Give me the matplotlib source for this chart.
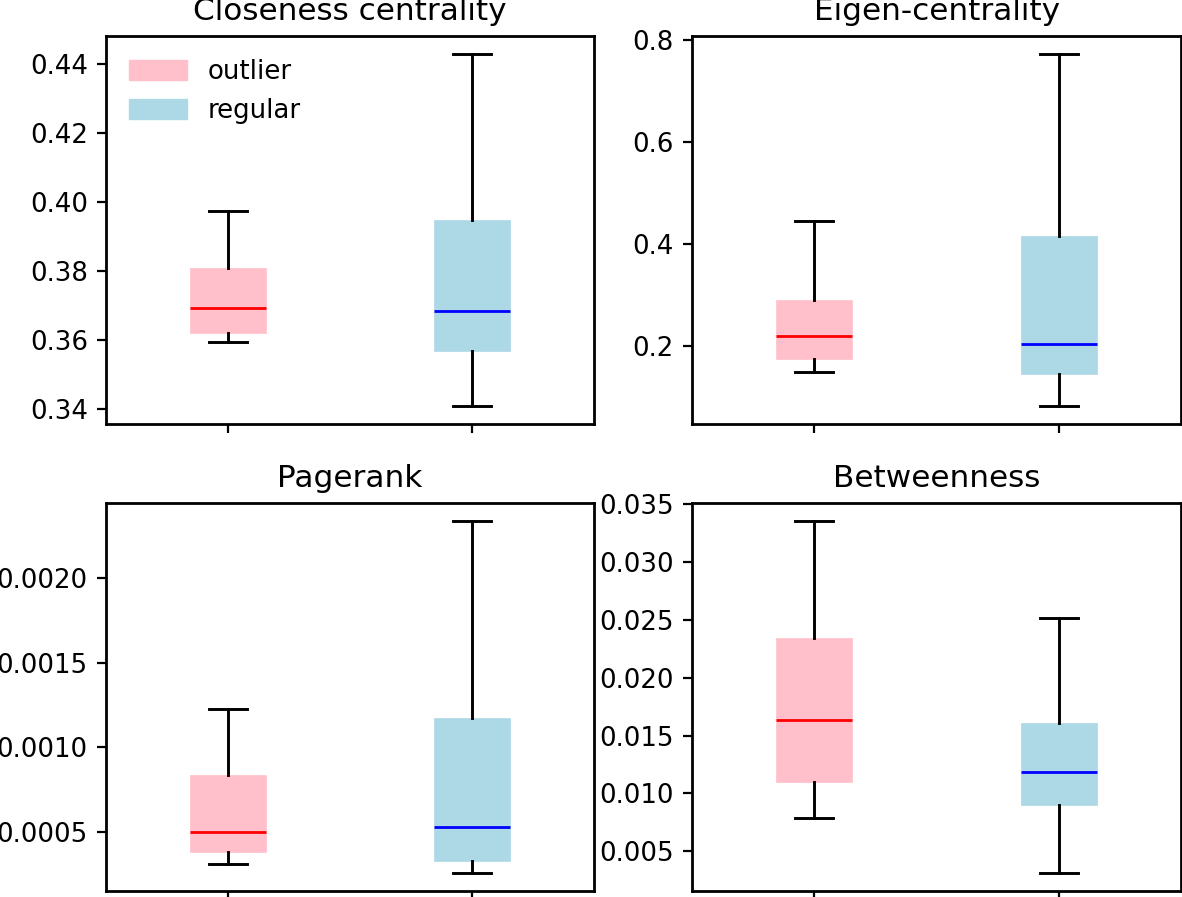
import matplotlib
matplotlib.use("Agg")
import matplotlib.pyplot as plt
import matplotlib.patches as mpatches

S = 1.87  # scale factor points

titles = ["Closeness centrality", "Eigen-centrality", "Pagerank", "Betweenness"]
groups = ["outlier", "regular"]
face_colors = ["pink", "lightblue"]
median_colors = ["red", "blue"]

# [outlier, regular] stats per panel
whislo = [[0.3596, 0.3409], [0.149, 0.0824], [0.000312, 0.000259], [0.0079, 0.00311]]
q1 = [[0.3622, 0.3568], [0.175, 0.145], [0.000382, 0.000329], [0.01102, 0.00904]]
med = [[0.3693, 0.3684], [0.2196, 0.204], [0.000500, 0.000529], [0.01635, 0.01188]]
q3 = [[0.3810, 0.3949], [0.290, 0.4157], [0.000835, 0.001171], [0.0234, 0.01609]]
whishi = [[0.3975, 0.4429], [0.445, 0.7725], [0.001224, 0.002335], [0.03354, 0.02511]]

fig = plt.figure(figsize=(11.82, 8.97), dpi=100)
W, H = 1182, 897
boxes_px = [(106, 36, 594, 424), (692, 36, 1181, 424),
            (106, 503, 594, 891), (692, 503, 1181, 891)]

for i, (x0, y0, x1, y1) in enumerate(boxes_px):
    ax = fig.add_axes([x0 / W, 1 - y1 / H, (x1 - x0) / W, (y1 - y0) / H])
    stats = []
    for g in range(2):
        stats.append(dict(whislo=whislo[i][g], q1=q1[i][g], med=med[i][g],
                          q3=q3[i][g], whishi=whishi[i][g], fliers=[], label=groups[g]))
    bp = ax.bxp(stats, positions=[1, 2], widths=0.31, patch_artist=True,
                showfliers=False,
                whiskerprops=dict(color="black", linewidth=2.1),
                capprops=dict(color="black", linewidth=2.1))
    for g, box in enumerate(bp["boxes"]):
        box.set_facecolor(face_colors[g])
        box.set_edgecolor(face_colors[g])
        box.set_linewidth(0.5)
    for g, m in enumerate(bp["medians"]):
        m.set_color(median_colors[g])
        m.set_linewidth(2.0)
    ax.set_xlim(0.5, 2.5)
    ax.set_xticks([1, 2])
    ax.set_xticklabels([])
    ax.set_title(titles[i], fontsize=12 * S, pad=6 * S)
    ax.tick_params(labelsize=10 * S, length=3.5 * S, width=1.6, pad=3.5 * S)
    for sp in ax.spines.values():
        sp.set_linewidth(2.0)
    if i == 0:
        handles = [mpatches.Patch(color=face_colors[g], label=groups[g]) for g in range(2)]
        ax.legend(handles=handles, loc="upper left", frameon=False, fontsize=10 * S,
                  handlelength=2.2, handleheight=0.8)

fig.savefig("out.png", dpi=100)
